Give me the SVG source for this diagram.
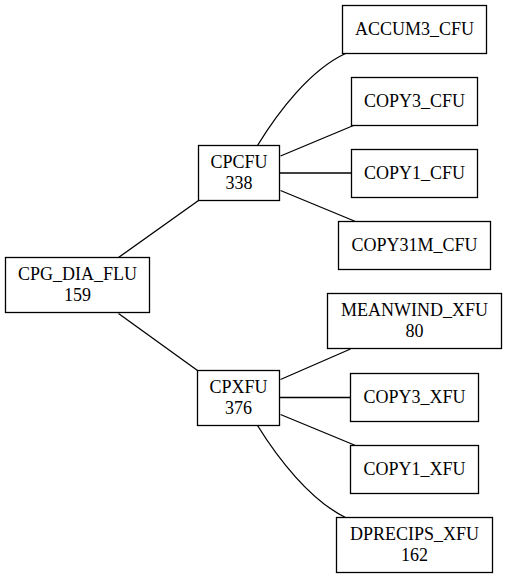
<svg xmlns="http://www.w3.org/2000/svg" width="507" height="579" viewBox="0 0 507 579">
<style>
.n rect{fill:#fff;stroke:#000;stroke-width:1.3}
.n text{font-family:"Liberation Serif","Times New Roman",serif;font-size:18px;text-anchor:middle;fill:#000}
#edges path{fill:none;stroke:#000;stroke-width:1.3}
</style>
<rect width="507" height="579" fill="#fff"/>
<g id="edges">
<path d="M118.5,257.5 L198.5,200.5"/>
<path d="M118.5,313.5 L197.5,370.5"/>
<path d="M257.5,145.5 C278,112 310,70 345.5,53.5"/>
<path d="M280.5,156 L353.5,125.5"/>
<path d="M279.5,173 L351.5,173"/>
<path d="M280.5,190.5 L355.5,221.5"/>
<path d="M280.5,379.5 L350.5,349"/>
<path d="M279.5,397.5 L350.5,397.5"/>
<path d="M280.5,414.5 L355.5,445.5"/>
<path d="M257.5,425.5 C278,458.5 310,500 345.5,517.5"/>
</g>
<g id="CPG_DIA_FLU" class="n"><rect x="5.5" y="257.5" width="144" height="55"/><text x="77.5" y="279.6">CPG_DIA_FLU</text><text x="77.5" y="301.2">159</text></g>
<g id="CPCFU" class="n"><rect x="198.5" y="145.5" width="81" height="55"/><text x="239" y="167.6">CPCFU</text><text x="239" y="189.2">338</text></g>
<g id="CPXFU" class="n"><rect x="197.5" y="370.5" width="82" height="55"/><text x="238.5" y="392.6">CPXFU</text><text x="238.5" y="414.2">376</text></g>
<g id="ACCUM3_CFU" class="n"><rect x="342.5" y="5.5" width="144" height="48"/><text x="414.5" y="35">ACCUM3_CFU</text></g>
<g id="COPY3_CFU" class="n"><rect x="351.5" y="77.5" width="126" height="48"/><text x="414.5" y="107">COPY3_CFU</text></g>
<g id="COPY1_CFU" class="n"><rect x="351.5" y="149.5" width="126" height="48"/><text x="414.5" y="179">COPY1_CFU</text></g>
<g id="COPY31M_CFU" class="n"><rect x="338.5" y="221.5" width="152" height="48"/><text x="414.5" y="251">COPY31M_CFU</text></g>
<g id="MEANWIND_XFU" class="n"><rect x="327.5" y="293.5" width="174" height="55"/><text x="414.5" y="315.6">MEANWIND_XFU</text><text x="414.5" y="337.2">80</text></g>
<g id="COPY3_XFU" class="n"><rect x="350.5" y="373.5" width="128" height="48"/><text x="414.5" y="403">COPY3_XFU</text></g>
<g id="COPY1_XFU" class="n"><rect x="350.5" y="445.5" width="128" height="48"/><text x="414.5" y="475">COPY1_XFU</text></g>
<g id="DPRECIPS_XFU" class="n"><rect x="336.5" y="517.5" width="156" height="55"/><text x="414.5" y="539.6">DPRECIPS_XFU</text><text x="414.5" y="561.2">162</text></g>
</svg>
